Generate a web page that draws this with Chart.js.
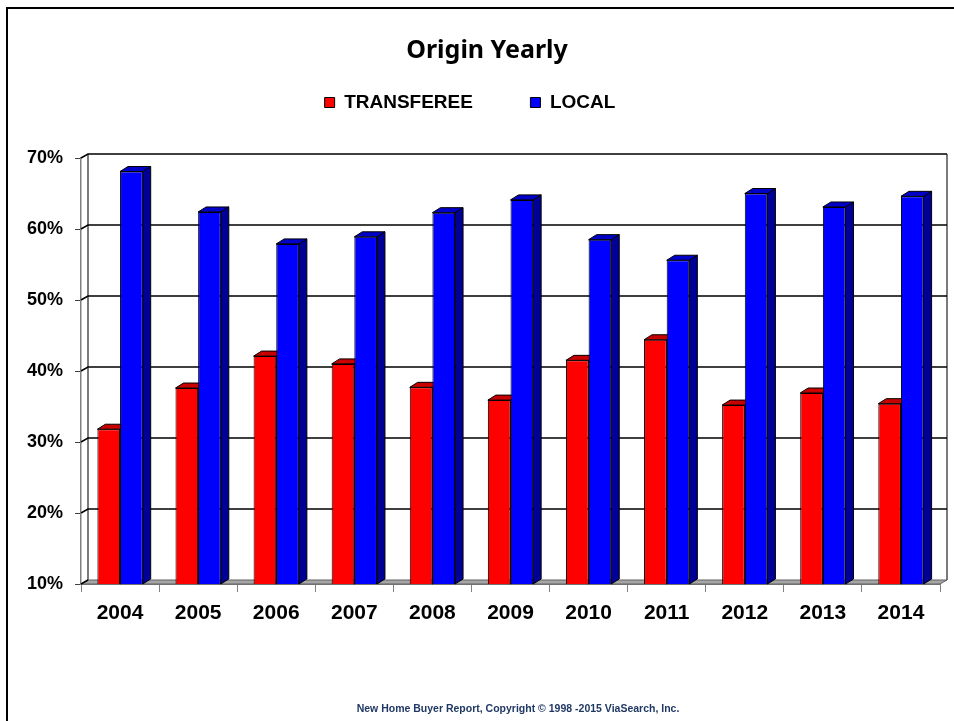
<!DOCTYPE html>
<html>
<head>
<meta charset="utf-8">
<script src="https://cdn.jsdelivr.net/npm/chart.js@4/dist/chart.umd.min.js"></script>
<style>
  html, body { margin: 0; padding: 0; background: #fff; }
  #page { position: relative; width: 954px; height: 721px; overflow: hidden; }
  #frame { position: absolute; left: 6px; top: 7px; width: 1000px; height: 1000px; border: 2px solid #000; }
  #chart { position: absolute; left: 0; top: 0; }
  #title { position: absolute; left: 0; width: 974px; top: 31px; line-height: 30px; text-align: center;
    font: bold 25px "Noto Sans", "Open Sans", sans-serif; color: #000; }
  #footer { position: absolute; left: 82px; width: 872px; top: 702px; text-align: center;
    font: bold 10.5px "Liberation Sans", Arial, sans-serif; color: #203864; }
</style>
</head>
<body>
<div id="page">
  <div id="frame"></div>
  <canvas id="chart" width="954" height="721"></canvas>
  <div id="title">Origin Yearly</div>
  <div id="footer">New Home Buyer Report, Copyright © 1998 -2015 ViaSearch, Inc.</div>
</div>
<script>
// values (percent)
const years = ["2004", "2005", "2006", "2007", "2008", "2009", "2010", "2011", "2012", "2013", "2014"]
const transferee = [31.8, 37.6, 42.1, 41.0, 37.7, 35.9, 41.5, 44.4, 35.2, 36.9, 35.4]
const local = [68.1, 62.4, 57.9, 58.9, 62.3, 64.1, 58.5, 55.6, 65.0, 63.1, 64.6]
const yTickValues = [10, 20, 30, 40, 50, 60, 70]
const yTickLabels = ["10%", "20%", "30%", "40%", "50%", "60%", "70%"]

const faceColors = [
  { top: "#c80000", side: "#960000" },
  { top: "#0000c8", side: "#000096" }
]
const WALL_DX = 7, WALL_DY = 4
const BAR_DX = 8, BAR_DY = 5

// extra room between the legend and the plot
const legendGap = {
  id: "legendGap",
  beforeInit(chart) {
    const fit = chart.legend.fit
    chart.legend.fit = function () {
      fit.bind(chart.legend)()
      this.height += 36
    }
  }
}

// back wall, floor and 3d faces of the bars
const pseudo3d = {
  id: "pseudo3d",
  beforeDatasetsDraw(chart) {
    const { ctx, chartArea: a } = chart
    const y = chart.scales.y
    ctx.save()
    // floor
    ctx.beginPath()
    ctx.moveTo(a.left, a.bottom)
    ctx.lineTo(a.left + WALL_DX, a.bottom - WALL_DY)
    ctx.lineTo(a.right + WALL_DX, a.bottom - WALL_DY)
    ctx.lineTo(a.right, a.bottom)
    ctx.closePath()
    ctx.fillStyle = "#a6a6a6"
    ctx.fill()
    ctx.strokeStyle = "#606060"
    ctx.lineWidth = 1
    ctx.stroke()
    // wall edges
    ctx.strokeStyle = "#505050"
    ctx.lineWidth = 1.5
    ctx.beginPath()
    ctx.moveTo(a.left + WALL_DX, a.top - WALL_DY)
    ctx.lineTo(a.left + WALL_DX, a.bottom - WALL_DY)
    ctx.moveTo(a.right + WALL_DX, a.top - WALL_DY)
    ctx.lineTo(a.right + WALL_DX, a.bottom - WALL_DY)
    ctx.stroke()
    // gridlines on the wall
    ctx.strokeStyle = "#000"
    ctx.lineWidth = 1.5
    yTickValues.forEach((v, i) => {
      const py = y.getPixelForValue(v)
      ctx.beginPath()
      ctx.moveTo(a.left, py)
      ctx.lineTo(a.left + WALL_DX, py - WALL_DY)
      if (i > 0) ctx.lineTo(a.right + WALL_DX, py - WALL_DY)
      ctx.stroke()
    })
    // bar tops and sides
    ctx.lineWidth = 1
    ctx.strokeStyle = "#000"
    chart.data.datasets.forEach((ds, di) => {
      chart.getDatasetMeta(di).data.forEach((bar) => {
        const { x, y: top, base, width } = bar.getProps(["x", "y", "base", "width"], true)
        const bottom = Math.min(base, a.bottom)
        const l = x - width / 2, r = x + width / 2
        ctx.beginPath()
        ctx.moveTo(r, top)
        ctx.lineTo(r + BAR_DX, top - BAR_DY)
        ctx.lineTo(r + BAR_DX, bottom - BAR_DY)
        ctx.lineTo(r, bottom)
        ctx.closePath()
        ctx.fillStyle = faceColors[di].side
        ctx.fill()
        ctx.stroke()
        ctx.beginPath()
        ctx.moveTo(l, top)
        ctx.lineTo(l + BAR_DX, top - BAR_DY)
        ctx.lineTo(r + BAR_DX, top - BAR_DY)
        ctx.lineTo(r, top)
        ctx.closePath()
        ctx.fillStyle = faceColors[di].top
        ctx.fill()
        ctx.stroke()
      })
    })
    ctx.restore()
  }
}

const ctx = document.getElementById("chart").getContext("2d")
const chart = new Chart(ctx, {
  type: "bar",
  data: {
    labels: years,
    datasets: [{
      label: "TRANSFEREE",
      data: transferee,
      backgroundColor: "#ff0000",
      borderColor: "#000",
      borderWidth: 1,
      borderSkipped: false
    },
    {
      label: "LOCAL",
      data: local,
      backgroundColor: "#0000ff",
      borderColor: "#000",
      borderWidth: 1,
      borderSkipped: false
    }]
  },
  options: {
    responsive: false,
    animation: false,
    categoryPercentage: 0.58,
    barPercentage: 1.0,
    layout: { padding: { left: 0, right: 14, top: 83, bottom: 0 } },
    plugins: {
      title: { display: false },
      legend: {
        display: true,
        labels: {
          color: "#000",
          boxWidth: 10,
          boxHeight: 10,
          padding: 10,
          font: { family: "'Liberation Sans', Arial, sans-serif", size: 19, weight: "bold" },
          generateLabels(chart) {
            const items = Chart.defaults.plugins.legend.labels.generateLabels(chart)
            items.forEach((it, i) => {
              if (i < items.length - 1) it.text = it.text + "\u2002\u2002\u2002\u2002\u2002"
            })
            return items
          }
        }
      },
      tooltip: { enabled: false }
    },
    scales: {
      x: {
        grid: { display: true, drawOnChartArea: false, drawTicks: true, tickLength: 8, color: "#808080", offset: true },
        border: { display: true, color: "#808080", width: 1 },
        ticks: {
          color: "#000",
          padding: 9,
          font: { family: "'Liberation Sans', Arial, sans-serif", size: 21, weight: "bold" }
        },
        afterFit(scale) { scale.height = 137 }
      },
      y: {
        min: 10,
        max: 70,
        grid: { display: true, drawOnChartArea: false, drawTicks: true, tickLength: 6, color: "#404040" },
        border: { display: true, color: "#808080", width: 1.5 },
        ticks: {
          color: "#000",
          padding: 12,
          font: { family: "'Liberation Sans', Arial, sans-serif", size: 18, weight: "bold" },
          callback(value) {
            const i = yTickValues.indexOf(value)
            return i >= 0 ? yTickLabels[i] : ""
          }
        },
        afterBuildTicks(scale) { scale.ticks = yTickValues.map((v) => ({ value: v })) },
        afterFit(scale) { scale.width = 81 }
      }
    }
  },
  plugins: [legendGap, pseudo3d]
})
</script>
</body>
</html>
